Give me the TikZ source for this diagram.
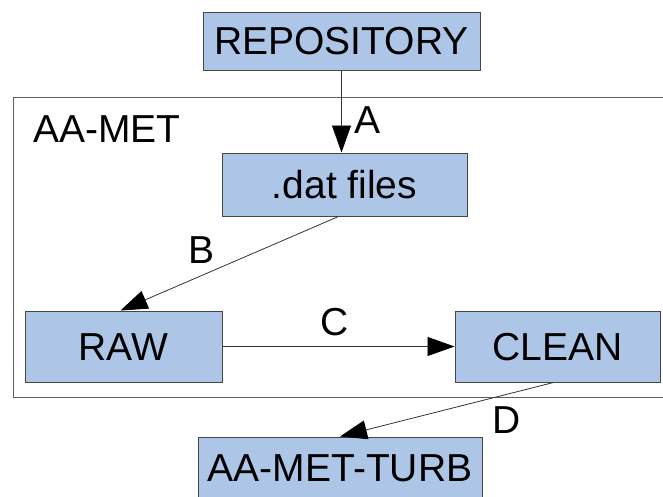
\documentclass[tikz,border=0pt]{standalone}
\usepackage{fontspec}
\setmainfont{Liberation Sans}
\usetikzlibrary{arrows.meta}
\definecolor{boxfill}{RGB}{173,198,231}
\definecolor{boxline}{RGB}{70,70,70}
\definecolor{frameline}{RGB}{95,95,95}
\begin{document}
\begin{tikzpicture}[x=1pt,y=-1pt,
  stage/.style={draw=boxline, fill=boxfill, line width=1pt, inner sep=0pt,
    font=\fontsize{39}{41}\selectfont, text height=27.5pt, text depth=0pt},
  flow/.style={draw=black!80, line width=0.8pt,
    -{Triangle[length=27pt,width=19pt,color=black,fill=black]}},
  tag/.style={font=\fontsize{39}{41}\selectfont, inner sep=0pt, anchor=base}]
\useasboundingbox (0,0) rectangle (663,496);
% enclosing group frame, open on the right
\draw[frameline, line width=1pt] (663,97.5) -- (13,97.5) -- (13,397) -- (663,397);
\node[tag, anchor=base west] (metlabel) at (33,142) {AA-MET};
% processing stages
\node[stage, minimum width=277pt, minimum height=58pt] (repo) at (341.5,41) {REPOSITORY};
\node[stage, minimum width=245pt, minimum height=63pt] (dat) at (344.5,184.5) {.dat files};
\node[stage, minimum width=197pt, minimum height=71pt] (raw) at (123.5,346.5) {RAW};
\node[stage, minimum width=205pt, minimum height=71pt] (clean) at (557.5,346.5) {CLEAN};
\node[stage, minimum width=284pt, minimum height=62pt] (turb) at (340,468) {AA-MET-TURB};
% transitions
\draw[flow] (repo.south) -- (repo.south |- dat.north);
\draw[flow] ([xshift=-6pt]dat.south) -- ([xshift=-3pt]raw.north);
\draw[flow] (raw.east) -- (clean.west);
\draw[flow] ([xshift=-4pt]clean.south) -- (turb.north);
% transition labels
\node[tag] (la) at (368,133) {A};
\node[tag] (lb) at (202,263) {B};
\node[tag] (lc) at (335,335) {C};
\node[tag] (ld) at (507,433) {D};
\end{tikzpicture}
\end{document}
